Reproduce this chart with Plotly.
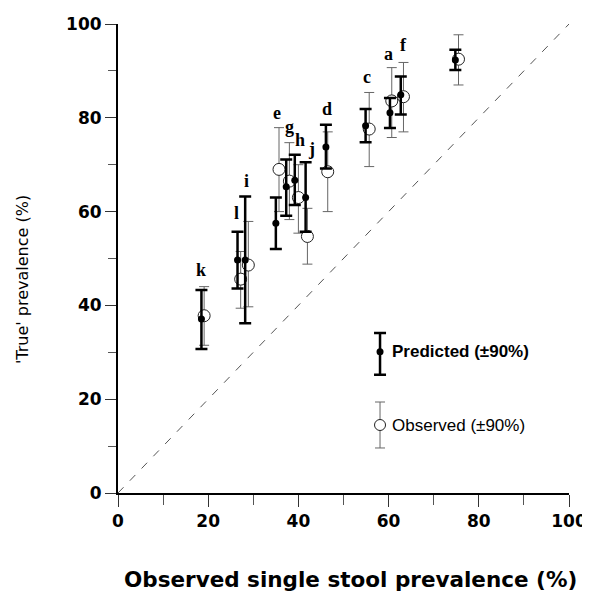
import plotly.graph_objects as go

labels = ["a", "b", "c", "d", "e", "f", "g", "h", "i", "j", "k", "l"]
pred_x = [60.3, 74.8, 54.9, 46.1, 35.0, 62.7, 37.3, 39.2, 28.2, 41.6, 18.5, 26.5]
pred_y = [81.1, 92.3, 78.3, 73.8, 57.5, 84.9, 65.3, 66.7, 49.7, 63.0, 37.1, 49.7]
pred_hi = [84.2, 94.5, 81.9, 78.5, 63.0, 88.8, 71.1, 72.1, 63.2, 70.5, 43.3, 55.7]
pred_lo = [77.8, 90.2, 74.8, 69.2, 52.0, 80.7, 59.1, 61.4, 36.2, 55.7, 30.7, 43.6]
obs_x = [60.7, 75.5, 55.7, 46.5, 35.7, 63.3, 38.0, 40.0, 28.9, 42.0, 19.1, 27.2]
obs_y = [83.6, 92.5, 77.6, 68.5, 69.0, 84.5, 66.5, 63.0, 48.6, 54.7, 37.8, 45.6]
obs_hi = [90.7, 97.7, 85.4, 77.0, 77.9, 91.8, 74.7, 70.0, 57.9, 60.7, 44.0, 51.5]
obs_lo = [75.8, 87.0, 69.6, 60.0, 60.0, 77.0, 58.3, 55.4, 39.7, 48.8, 31.5, 39.4]
label_x = [59.9, 74.7, 55.1, 46.3, 35.2, 63.3, 38.1, 40.4, 28.6, 42.8, 18.5, 26.2]
label_y = [93.7, 101.9, 88.6, 81.8, 81.0, 95.5, 78.1, 75.3, 66.5, 73.3, 47.5, 59.7]

# legend key (layout positions)
key_x = 58.1
key_pred = (30.1, 34.1, 25.2)
key_obs = (14.5, 19.4, 9.6)

fig = go.Figure()

# identity line
fig.add_trace(go.Scatter(x=[0, 100], y=[0, 100], mode="lines",
                         line=dict(color="#555", width=1, dash="8px,9px"),
                         showlegend=False, hoverinfo="skip"))

def err(vals, hi, lo):
    return ([h - v for h, v in zip(hi, vals)], [v - l for v, l in zip(vals, lo)])

oe, oem = err(obs_y, obs_hi, obs_lo)
pe, pem = err(pred_y, pred_hi, pred_lo)

fig.add_trace(go.Scatter(
    x=obs_x, y=obs_y, mode="markers",
    marker=dict(symbol="circle", size=12, color="white", line=dict(color="#222", width=1)),
    error_y=dict(type="data", symmetric=False, array=oe, arrayminus=oem,
                 color="#666", thickness=1, width=5),
    showlegend=False))

fig.add_trace(go.Scatter(
    x=pred_x, y=pred_y, mode="markers",
    marker=dict(symbol="circle", size=7, color="black"),
    error_y=dict(type="data", symmetric=False, array=pe, arrayminus=pem,
                 color="black", thickness=2.5, width=6),
    showlegend=False))

# legend key marks
fig.add_trace(go.Scatter(
    x=[key_x], y=[key_pred[0]], mode="markers",
    marker=dict(size=7, color="black"),
    error_y=dict(type="data", symmetric=False, array=[key_pred[1] - key_pred[0]],
                 arrayminus=[key_pred[0] - key_pred[2]], color="black", thickness=2.5, width=6),
    showlegend=False, hoverinfo="skip"))
fig.add_trace(go.Scatter(
    x=[key_x], y=[key_obs[0]], mode="markers",
    marker=dict(size=11, color="white", line=dict(color="#222", width=1)),
    error_y=dict(type="data", symmetric=False, array=[key_obs[1] - key_obs[0]],
                 arrayminus=[key_obs[0] - key_obs[2]], color="#666", thickness=1, width=5),
    showlegend=False, hoverinfo="skip"))

fig.add_annotation(x=key_x + 2.2, y=key_pred[0], text="<b>Predicted (±90%)</b>", showarrow=False,
                   xanchor="left", yanchor="middle",
                   font=dict(family="Liberation Sans, Arial", size=17, color="black"))
fig.add_annotation(x=key_x + 2.2, y=key_obs[0], text="Observed (±90%)", showarrow=False,
                   xanchor="left", yanchor="middle",
                   font=dict(family="Liberation Sans, Arial", size=17, color="black"))

for t, lx, ly in zip(labels, label_x, label_y):
    fig.add_annotation(x=lx, y=ly, text="<b>" + t + "</b>", showarrow=False,
                       xanchor="center", yanchor="middle",
                       font=dict(family="Liberation Serif, Times New Roman", size=18, color="black"))

# axis titles
fig.add_annotation(xref="paper", yref="paper", x=0.515, y=-0.1855,
                   text="<b>Observed single stool prevalence (%)</b>", showarrow=False,
                   xanchor="center", yanchor="middle",
                   font=dict(family="DejaVu Sans", size=21.5, color="black"))
fig.add_annotation(xref="paper", yref="paper", x=-0.213, y=0.456, textangle=-90,
                   text="'True' prevalence (%)", showarrow=False,
                   xanchor="center", yanchor="middle",
                   font=dict(family="DejaVu Sans", size=16, color="black"))

axis_common = dict(range=[0, 100], dtick=20, showgrid=False, zeroline=False,
                   showline=True, linecolor="black", linewidth=2,
                   ticks="outside", tickwidth=1, tickcolor="#333",
                   tickfont=dict(family="DejaVu Sans", size=17, color="black"),
                   tickprefix="<b>", ticksuffix="</b>",
                   automargin=False, fixedrange=True)

fig.update_xaxes(**axis_common, ticklen=12,
                 minor=dict(dtick=10, ticks="outside", ticklen=10, tickwidth=1, tickcolor="#555"))
fig.update_yaxes(**axis_common, ticklen=11,
                 minor=dict(dtick=10, ticks="outside", ticklen=8, tickwidth=1, tickcolor="#555"))

# page body has an 8px margin, so the figure is offset by 8px
fig.update_layout(width=582, height=587, plot_bgcolor="white", paper_bgcolor="white",
                  margin=dict(l=110, r=21, t=16, b=102), showlegend=False)

fig.write_html("out.html")
